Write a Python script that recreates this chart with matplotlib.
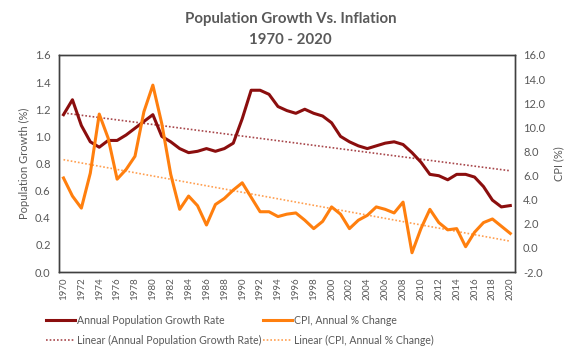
import numpy as np
import matplotlib.pyplot as plt
from matplotlib.lines import Line2D

# Данные
years = list(range(1970, 2021))
pop_growth = [1.16, 1.27, 1.08, 0.96, 0.92, 0.97, 0.97, 1.01, 1.06, 1.11,
              1.16, 1.00, 0.96, 0.91, 0.88, 0.89, 0.91, 0.89, 0.91, 0.95,
              1.13, 1.34, 1.34, 1.31, 1.22, 1.19, 1.17, 1.20, 1.17, 1.15,
              1.10, 1.00, 0.96, 0.93, 0.91, 0.93, 0.95, 0.96, 0.94, 0.88,
              0.81, 0.72, 0.71, 0.68, 0.72, 0.72, 0.70, 0.63, 0.53, 0.48,
              0.49]
cpi = [5.8, 4.3, 3.3, 6.2, 11.1, 9.1, 5.7, 6.5, 7.6, 11.3,
       13.5, 10.3, 6.1, 3.2, 4.3, 3.5, 1.9, 3.6, 4.1, 4.8,
       5.4, 4.2, 3.0, 3.0, 2.6, 2.8, 2.9, 2.3, 1.6, 2.2,
       3.4, 2.8, 1.6, 2.3, 2.7, 3.4, 3.2, 2.9, 3.8, -0.4,
       1.6, 3.2, 2.1, 1.5, 1.6, 0.1, 1.3, 2.1, 2.4, 1.8,
       1.2]

plt.rcParams['font.family'] = ['Lato', 'DejaVu Sans']
txt = '#595959'
red = '#8B0E0E'
orange = '#FF7F0E'

fig = plt.figure(figsize=(5.81, 3.57), dpi=100)
ax = fig.add_axes([0.1016, 0.238, 0.7844, 0.608])
ax2 = ax.twinx()

x = np.array(years)
ax.plot(x, pop_growth, color=red, lw=2.2, zorder=3)
ax2.plot(x, cpi, color=orange, lw=2.2, zorder=3)

# Линейные тренды
k1 = np.polyfit(x, pop_growth, 1)
k2 = np.polyfit(x, cpi, 1)
ax.plot(x, np.polyval(k1, x), color='#A8474B', lw=1.2, ls=(0, (1, 1.2)))
ax2.plot(x, np.polyval(k2, x), color='#FF9F50', lw=1.2, ls=(0, (1, 1.2)))

ax.set_xlim(1969.5, 2020.5)
ax.set_ylim(0, 1.6)
ax2.set_ylim(-2, 16)
ax.set_yticks(np.arange(0, 1.61, 0.2))
ax.set_yticklabels([f'{v:.1f}' for v in np.arange(0, 1.61, 0.2)])
ax2.set_yticks(np.arange(-2, 16.1, 2))
ax2.set_yticklabels([f'{v:.1f}' for v in np.arange(-2, 16.1, 2)])
ax.set_xticks(years[::2])
ax.set_xticklabels([str(y) for y in years[::2]], rotation=90)

for a in (ax, ax2):
    a.tick_params(length=0, labelsize=8, labelcolor=txt, pad=6)
    for s in a.spines.values():
        s.set_color('#404040')
        s.set_linewidth(1.0)
ax.tick_params(axis='x', labelsize=7, pad=4)

ax.set_ylabel('Population Growth (%)', color=txt, fontsize=8, labelpad=4)
ax2.set_ylabel('CPI (%)', color=txt, fontsize=8, labelpad=6)

fig.text(0.5, 0.948, 'Population Growth Vs. Inflation', ha='center', va='center',
         fontsize=10.8, fontweight='bold', color=txt)
fig.text(0.5, 0.888, '1970 - 2020', ha='center', va='center',
         fontsize=10.8, fontweight='bold', color=txt)

handles = [Line2D([], [], color=red, lw=2.2),
           Line2D([], [], color='#A8474B', lw=1.2, ls=(0, (1, 1.2))),
           Line2D([], [], color=orange, lw=2.2),
           Line2D([], [], color='#FF9F50', lw=1.2, ls=(0, (1, 1.2)))]
labels = ['Annual Population Growth Rate', 'Linear (Annual Population Growth Rate)',
          'CPI, Annual % Change', 'Linear (CPI, Annual % Change)']
leg = fig.legend(handles, labels, ncol=2, loc='center', bbox_to_anchor=(0.413, 0.075),
                 frameon=False, fontsize=7.6, handlelength=2.7, handletextpad=0.2,
                 columnspacing=0.15, labelspacing=0.85, borderpad=0)
for t in leg.get_texts():
    t.set_color(txt)

fig.savefig('out.png', dpi=100)
